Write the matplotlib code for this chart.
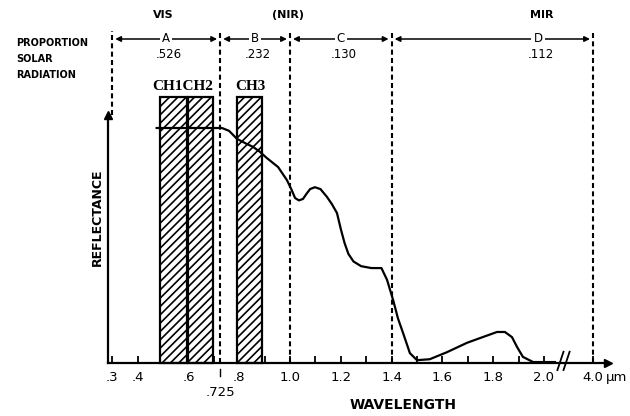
import matplotlib
matplotlib.use("Agg")
import matplotlib.pyplot as plt
import numpy as np

plt.rcParams["hatch.linewidth"] = 1.2

# ---------------- data ----------------
wavelength = [0.475, 0.55, 0.65, 0.732, 0.76, 0.791, 0.83, 0.854, 0.88, 0.909, 0.953,
              0.988, 1.005, 1.020, 1.035, 1.051, 1.065, 1.079, 1.098, 1.12, 1.146,
              1.165, 1.185, 1.20, 1.215, 1.23, 1.25, 1.28, 1.32, 1.36, 1.382, 1.406,
              1.425, 1.445, 1.472, 1.50, 1.55, 1.618, 1.697, 1.748, 1.815, 1.846,
              1.874, 1.894, 1.917, 1.957, 2.00, 2.043]
reflectance = [50.0, 50.0, 50.0, 50.0, 49.4, 47.7, 46.6, 46.0, 45.0, 43.6, 41.7,
               38.9, 37.0, 35.1, 34.6, 34.9, 36.0, 37.0, 37.4, 37.0, 35.3,
               33.8, 31.9, 28.5, 25.5, 23.2, 21.6, 20.6, 20.2, 20.2, 17.7, 13.4,
               9.5, 6.4, 2.1, 0.6, 0.8, 2.3, 4.3, 5.3, 6.6, 6.6,
               5.5, 3.4, 1.3, 0.2, 0.2, 0.2]

channels = ["CH1", "CH2", "CH3"]
channel_start = [0.49, 0.598, 0.79]
channel_end = [0.595, 0.695, 0.89]

region_bounds = [0.3, 0.725, 1.0, 1.4, 4.0]
region_letters = ["A", "B", "C", "D"]
region_props = [".526", ".232", ".130", ".112"]
region_names = ["VIS", "(NIR)", "MIR"]

major_ticks = [0.3, 0.4, 0.6, 0.8, 1.0, 1.2, 1.4, 1.6, 1.8, 2.0, 4.0]
major_labels = [".3", ".4", ".6", ".8", "1.0", "1.2", "1.4", "1.6", "1.8", "2.0", "4.0"]
minor_ticks = [0.5, 0.7, 0.9, 1.1, 1.3, 1.5, 1.7, 1.9]

# ---------------- layout helpers ----------------
W, H = 630, 416
X0PX, PXPERUM = 290, 254.0      # pixel of 1.0 um, pixels per um
Y0PX, PXPERR = 363, 4.7
BREAK_POS = 2.193                # where 4.0 um sits on the broken axis


def xpos(w):
    """position on the (broken) axis for a wavelength"""
    return BREAK_POS if w >= 3.0 else w


def px2x(px):
    return 1.0 + (px - X0PX) / PXPERUM


def py2y(py):
    return (Y0PX - py) / PXPERR


fig = plt.figure(figsize=(W / 100, H / 100), dpi=100)
left_px, right_px, top_px = 108, 608, 115
ax = fig.add_axes([left_px / W, (H - Y0PX) / H, (right_px - left_px) / W,
                   (Y0PX - top_px) / H])
ax.set_xlim(px2x(left_px), px2x(right_px))
ax.set_ylim(0, py2y(top_px))

for s in ["top", "right"]:
    ax.spines[s].set_visible(False)
for s in ["left", "bottom"]:
    ax.spines[s].set_linewidth(1.6)

ax.set_yticks([])
ax.set_xticks([xpos(t) for t in major_ticks])
ax.set_xticklabels(major_labels, fontsize=9.5, family="DejaVu Sans")
ax.set_xticks(minor_ticks, minor=True)
ax.tick_params(axis="x", which="both", direction="in", length=5, width=1.3, pad=6)

# arrowheads at axis ends
ax.plot([px2x(left_px)], [py2y(top_px)], marker="^", color="k", ms=6, clip_on=False)
ax.plot([px2x(right_px)], [0], marker=">", color="k", ms=6, clip_on=False)

# axis break marks
for dx in (-0.012, 0.012):
    xb = px2x(563) + dx
    ax.plot([xb - 0.010, xb + 0.014], [-1.5, 2.4], color="k", lw=1.3, clip_on=False)

# .725 marker below axis
ax.plot([0.725, 0.725], [-1.2, -2.8], color="k", lw=1.0, clip_on=False)
ax.text(0.725, py2y(392), ".725", ha="center", va="center", fontsize=9.5)
ax.text(px2x(606), py2y(378), "µm", ha="left", va="center", fontsize=9.5)

# channel bars
for name, a, b in zip(channels, channel_start, channel_end):
    bars = ax.bar(a, py2y(97), width=b - a, align="edge", facecolor="white",
                  edgecolor="k", linewidth=1.6, hatch="////", zorder=2)
    for r in bars:
        r.set_clip_on(False)
ax.text(px2x(183), py2y(86), channels[0] + channels[1], ha="center", va="center",
        fontsize=11, family="Liberation Serif", weight="bold")
ax.text(px2x(250), py2y(86), channels[2], ha="center", va="center",
        fontsize=11, family="Liberation Serif", weight="bold")

# reflectance curve
ax.plot(wavelength, reflectance, color="k", lw=1.6, zorder=3)

# region dashed lines
dash = (0, (2.4, 1.6))
for b in region_bounds:
    bottom = py2y(top_px) if b == 0.3 else 0
    ax.plot([xpos(b), xpos(b)], [bottom, py2y(31)], color="k", lw=1.5, ls=dash,
            clip_on=False, zorder=1)

# region arrows with letters and proportions
arrow_y = py2y(39)
gap = 0.012
for i, (let, prop) in enumerate(zip(region_letters, region_props)):
    a, b = xpos(region_bounds[i]), xpos(region_bounds[i + 1])
    ax.annotate("", xy=(a + gap, arrow_y), xytext=(b - gap, arrow_y),
                arrowprops=dict(arrowstyle="<|-|>", lw=1.1, color="k",
                                mutation_scale=8, shrinkA=0, shrinkB=0),
                annotation_clip=False)
    xm = (a + b) / 2 if i < 3 else px2x(538)
    ax.text(xm, arrow_y, let, ha="center", va="center", fontsize=8.5,
            bbox=dict(facecolor="white", edgecolor="none", pad=1.5))
    ax.text(xm + 0.01, py2y(55), prop, ha="center", va="center", fontsize=8.5)

for name, px in zip(region_names, [163, 288, 542]):
    ax.text(px2x(px), py2y(15), name, ha="center", va="center", fontsize=8,
            weight="bold")

for txt, py in zip(["PROPORTION", "SOLAR", "RADIATION"], [43, 59, 75]):
    ax.text(px2x(16), py2y(py), txt, ha="left", va="center", fontsize=7,
            weight="bold")

fig.text(403 / W, 1 - 405 / H, "WAVELENGTH", ha="center", va="center",
         fontsize=10, weight="bold")
fig.text(97 / W, 1 - 217 / H, "REFLECTANCE", ha="center", va="center",
         fontsize=9, weight="bold", rotation=90)

fig.savefig("out.png", dpi=100)
